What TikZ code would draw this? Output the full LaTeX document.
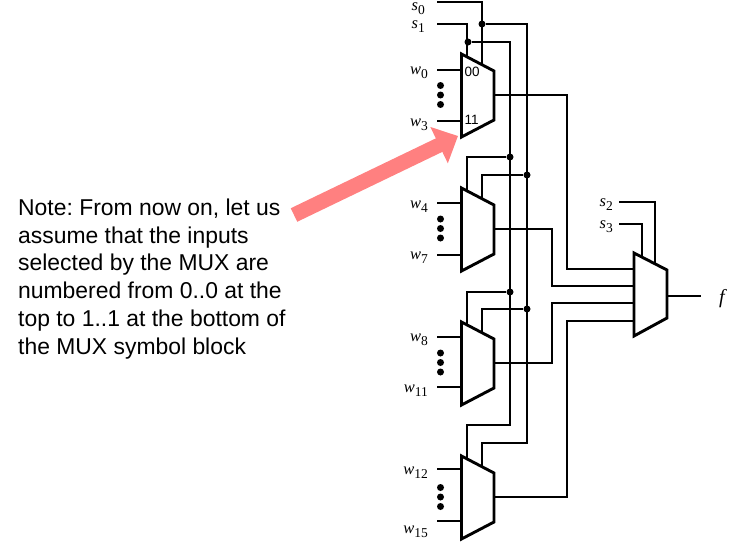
\documentclass[tikz,border=0pt]{standalone}
\usepackage{fontspec}
\usepackage{xcolor}
\setmainfont{Liberation Serif}
\newfontfamily\notefont{Liberation Sans}
\usetikzlibrary{arrows.meta}
\definecolor{notepink}{HTML}{FF8080}
\newcommand{\sig}[2]{\textit{#1}\raisebox{-4.5pt}{\fontsize{13.5}{13.5}\selectfont #2}}

\begin{document}
\begin{tikzpicture}[
    x=1pt, y=-1pt,
    wire/.style={line width=1.7pt},
    muxblock/.style={draw, line width=2.9pt, fill=white, line join=miter},
    dot/.style={circle, fill=black, inner sep=0pt, minimum size=7pt},
    siglabel/.style={anchor=base east, inner sep=0pt, font=\fontsize{16.5}{16.5}\selectfont},
    sellabel/.style={inner sep=0pt, font=\notefont\fontsize{13.5}{13.5}\selectfont},
    notearrow/.style={notepink, line width=15pt, -{Triangle[length=21pt, width=39pt]}},
]
    \useasboundingbox (0,0) rectangle (754,546);

    % note and its arrow
    \node[anchor=north west, inner sep=0pt, align=left, font=\frenchspacing\notefont\fontsize{22.9}{27.8}\selectfont] (note) at (18,198.5)
        {Note: From now on, let us\\assume that the inputs\\selected by the MUX are\\numbered from 0..0 at the\\top to 1..1 at the bottom of\\the MUX symbol block};
    \coordinate (tail) at (294,215);
    \coordinate (tip) at (458,136);
    \draw[notearrow] (tail) -- (tip);

    % first stage corners
    \foreach \m/\t in {m0/54, m1/188, m2/322, m3/456} {
        \coordinate (\m tl) at (461.5,\t);
        \coordinate (\m tr) at (494,\t+17);
        \coordinate (\m br) at (494,\t+66);
        \coordinate (\m bl) at (461.5,\t+83);
        \coordinate (\m a) at (467,\t+4);
        \coordinate (\m b) at (482,\t+11);
        \coordinate (\m out) at (494,\t+41);
    }

    % last stage corners
    \coordinate (mftl) at (634,253);
    \coordinate (mftr) at (667,270);
    \coordinate (mfbr) at (667,318);
    \coordinate (mfbl) at (634,336);
    \coordinate (mfa) at (642,257);
    \coordinate (mfb) at (655,263);
    \coordinate (mfout) at (667,296);
    \coordinate (f0) at (634,269);
    \coordinate (f1) at (634,286);
    \coordinate (f2) at (634,303);
    \coordinate (f3) at (634,321);

    % data inputs
    \foreach \n/\y/\b/\k in {0/70/74/m0, 3/121/126/m0, 4/203/208/m1, 7/255/259/m1, 8/337/341/m2, 11/387/392/m2, 12/469/474/m3, 15/521/533/m3} {
        \coordinate (w\n) at (437,\y);
        \coordinate (w\n in) at (461.5,\y);
        \node[siglabel] (w\n label) at (428,\b) {\sig{w}{\n}};
        \draw[wire] (w\n) -- (w\n in);
    }

    % dots between inputs
    \foreach \y in {95, 228.5, 362.5, 497} {
        \node[dot] (vdots\y a) at (440.5,\y-9.5) {};
        \node[dot] (vdots\y b) at (440.5,\y) {};
        \node[dot] (vdots\y c) at (440.5,\y+9.5) {};
    }

    % select lines
    \coordinate (s0) at (437,2);
    \coordinate (s1) at (437,24);
    \node[siglabel] (s0label) at (425,10) {\sig{s}{0}};
    \node[siglabel] (s1label) at (425,28) {\sig{s}{1}};
    \node[dot] (j0) at (482,24) {};
    \node[dot] (j1) at (468,42) {};
    \node[dot] (j2) at (510,157) {};
    \node[dot] (j3) at (527,175) {};
    \node[dot] (j4) at (510,292) {};
    \node[dot] (j5) at (527,309) {};
    \coordinate (c0) at (510,425);
    \coordinate (c1) at (527,443);

    \draw[wire] (s0) -| (m0b);
    \draw[wire] (s1) -| (m0a);
    \draw[wire] (j0) -| (c1) -| (m3b);
    \draw[wire] (j1) -| (c0) -| (m3a);
    \draw[wire] (j2) -| (m1a);
    \draw[wire] (j3) -| (m1b);
    \draw[wire] (j4) -| (m2a);
    \draw[wire] (j5) -| (m2b);

    % outputs to last stage
    \coordinate (c2) at (567,269);
    \coordinate (c3) at (552,286);
    \coordinate (c4) at (552,303);
    \coordinate (c5) at (567,321);
    \draw[wire] (m0out) -| (c2) -- (f0);
    \draw[wire] (m1out) -| (c3) -- (f1);
    \draw[wire] (m2out) -| (c4) -- (f2);
    \draw[wire] (m3out) -| (c5) -- (f3);

    % last stage select and output
    \coordinate (s2) at (619,202);
    \coordinate (s3) at (619,224);
    \node[siglabel] (s2label) at (613,206) {\sig{s}{2}};
    \node[siglabel] (s3label) at (613,228) {\sig{s}{3}};
    \draw[wire] (s2) -| (mfb);
    \draw[wire] (s3) -| (mfa);
    \coordinate (fend) at (701,296);
    \node[anchor=base, inner sep=0pt, font=\fontsize{20}{20}\selectfont\itshape] (f) at (722,303) {f};
    \draw[wire] (mfout) -- (fend);

    % mux symbols
    \foreach \m in {m0, m1, m2, m3, mf}
        \draw[muxblock] (\m tl) -- (\m tr) -- (\m br) -- (\m bl) -- cycle;
    \node[sellabel, anchor=west] (sel00) at (464.5,72) {00};
    \node[sellabel, anchor=west] (sel11) at (464.5,120) {11};
\end{tikzpicture}
\end{document}
